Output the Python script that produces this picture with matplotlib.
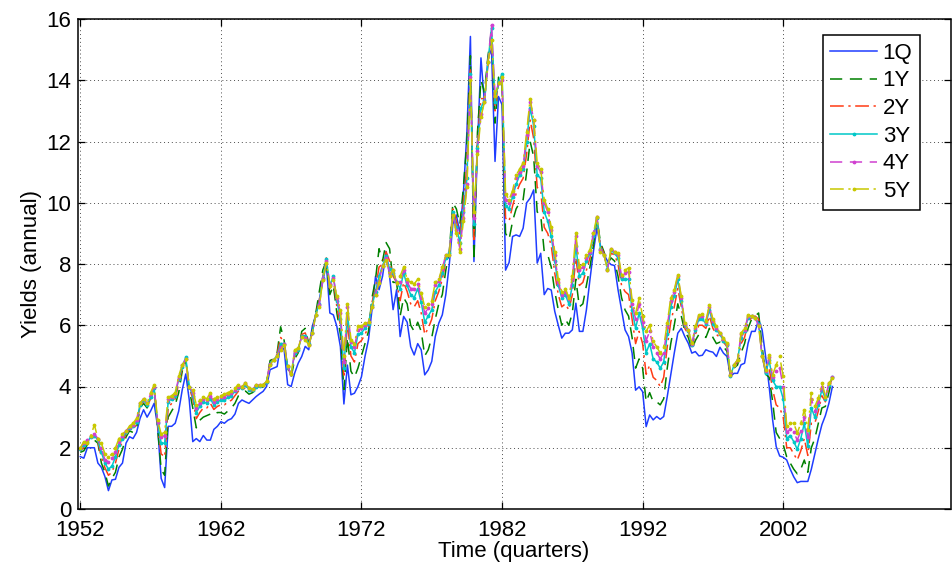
import numpy as np
import matplotlib
matplotlib.use("Agg")
import matplotlib.pyplot as plt

plt.rcParams['font.family'] = ['Liberation Sans', 'DejaVu Sans']

series_names = ['1Q', '1Y', '2Y', '3Y', '4Y', '5Y']
tick_labels = ['1952', '1962', '1972', '1982', '1992', '2002']
tick_quarters = [1, 41, 81, 121, 161, 201]

y_1q = [1.71,1.66,2.0,2.0,2.0,1.5,1.36,1.06,0.6,0.95,
0.97,1.36,1.5,2.15,2.36,2.3,2.5,2.96,3.24,3.0,
3.2,3.45,2.69,1.0,0.7,2.7,2.7,2.8,3.2,3.89,
4.41,3.56,2.2,2.3,2.2,2.4,2.25,2.25,2.6,2.7,
2.85,2.8,2.9,2.95,3.1,3.45,3.56,3.5,3.45,3.56,
3.67,3.76,3.84,4.0,4.55,4.6,4.65,5.36,5.2,4.06,
4.0,4.44,4.76,4.98,5.31,5.2,5.96,6.34,6.83,7.43,
8.0,6.4,6.34,5.96,5.3,3.43,4.7,3.73,3.78,4.0,
4.32,4.98,5.53,6.51,7.6,7.16,7.6,8.41,7.6,6.51,
7.16,5.63,6.29,6.1,5.3,5.03,5.4,5.2,4.38,4.54,
4.82,5.63,6.07,6.34,7.0,8.0,9.3,9.6,9.0,10.3,
12.3,15.43,8.08,11.84,14.73,13.25,14.73,15.0,11.35,13.47,
13.2,7.8,8.05,8.9,8.95,8.9,9.17,10.0,10.15,10.42,
8.03,8.35,7.0,7.2,7.15,6.45,6.0,5.58,5.74,5.74,
5.85,6.72,5.8,5.8,6.5,7.48,8.41,9.17,8.6,8.3,
8.1,7.98,7.95,7.16,6.5,5.85,5.63,5.09,3.88,3.99,
3.83,2.69,3.07,2.91,3.02,2.93,3.02,3.67,4.38,5.09,
5.74,5.9,5.63,5.41,5.09,5.14,5.0,5.02,5.2,5.15,
5.12,4.98,5.28,5.09,4.98,4.33,4.43,4.43,4.71,4.76,
5.41,5.8,5.8,6.18,5.85,4.98,4.0,2.9,2.04,1.73,
1.69,1.6,1.3,1.05,0.86,0.9,0.9,0.9,1.3,1.8,
2.3,2.75,3.05,3.45,4.0]

y_1y = [1.85,1.9,2.1,2.2,2.25,2.15,1.5,1.2,0.75,1.0,
1.2,1.7,1.95,2.35,2.55,2.5,2.65,3.3,3.45,3.3,
3.55,4.0,2.65,1.3,1.1,3.0,3.2,3.4,3.8,4.5,
4.85,3.9,3.3,2.65,2.9,3.0,3.05,3.1,3.05,3.15,
3.15,3.1,3.2,3.3,3.45,3.7,3.8,3.85,3.75,3.8,
3.9,3.95,3.98,4.15,4.85,4.9,5.1,5.95,5.5,4.6,
4.3,4.9,5.1,5.8,5.9,5.4,5.8,6.4,7.1,7.8,
8.1,7.0,7.3,6.4,5.7,3.9,5.6,4.5,4.3,4.6,
5.0,5.4,5.8,6.9,7.5,8.5,8.1,8.7,8.5,7.4,
7.4,6.3,6.9,6.7,6.0,5.8,6.1,5.8,5.0,5.2,
5.6,6.2,6.7,7.0,7.8,8.4,10.0,9.8,9.3,10.5,
12.0,14.8,8.1,12.3,14.0,13.6,14.8,15.6,12.6,14.1,
13.8,9.0,8.8,9.4,9.8,10.0,10.1,11.0,12.0,11.5,
9.7,9.6,8.4,8.3,7.9,7.1,6.5,6.0,6.2,6.0,
6.4,7.5,6.6,6.7,7.3,7.9,8.6,9.5,8.7,8.4,
8.0,8.2,8.1,7.6,6.9,6.5,6.3,5.6,4.6,4.9,
4.6,3.5,3.8,3.5,3.5,3.4,3.6,4.6,5.4,6.0,
6.7,6.3,5.8,5.6,5.2,5.5,5.7,5.7,5.6,5.9,
5.6,5.4,5.45,5.3,5.15,4.3,4.6,4.7,5.1,5.4,
5.9,6.2,6.3,6.4,5.3,4.4,4.3,3.5,2.5,2.3,
2.1,1.7,1.5,1.3,1.15,1.3,1.6,1.2,2.0,2.3,
2.8,3.3,3.35,3.8,4.3]

y_2y = [1.9,2.0,2.2,2.3,2.35,2.2,1.7,1.35,1.1,1.2,
1.5,1.95,2.2,2.45,2.6,2.6,2.75,3.35,3.5,3.35,
3.6,3.95,2.75,1.8,1.7,3.3,3.45,3.6,4.1,4.6,
4.9,3.95,3.6,2.95,3.15,3.3,3.3,3.45,3.25,3.35,
3.4,3.4,3.5,3.55,3.7,3.85,3.9,3.95,3.85,3.85,
3.95,4.0,4.02,4.15,4.8,4.9,5.05,5.6,5.45,4.65,
4.35,5.0,5.15,5.7,5.75,5.4,5.75,6.35,6.8,7.6,
8.2,7.2,7.5,6.6,6.0,4.3,6.1,5.0,4.8,5.4,
5.5,5.7,5.95,6.75,7.2,7.9,8.0,8.4,8.1,7.6,
7.4,6.8,7.4,7.1,6.7,6.6,6.8,6.4,5.7,5.9,
6.2,6.8,7.1,7.5,8.1,8.4,9.8,9.4,8.9,10.0,
11.2,14.4,8.8,12.0,13.4,13.4,14.5,15.5,13.0,14.0,
13.9,9.5,9.4,9.9,10.3,10.6,10.8,11.6,12.7,12.1,
10.5,10.4,9.2,9.0,8.6,7.7,7.0,6.6,6.7,6.5,
7.0,8.2,7.3,7.4,7.8,8.2,8.8,9.5,8.6,8.35,
7.9,8.35,8.3,8.0,7.3,7.1,7.0,6.2,5.4,5.8,
5.4,4.4,4.7,4.3,4.2,4.0,4.3,5.3,6.1,6.6,
7.2,6.6,5.9,5.7,5.3,5.7,6.0,6.0,5.9,6.3,
5.9,5.7,5.6,5.45,5.3,4.3,4.65,4.8,5.4,5.6,
6.1,6.25,6.3,6.2,5.1,4.4,4.6,3.9,3.4,3.3,
3.0,2.0,2.0,1.8,1.6,1.9,2.3,1.75,2.8,2.8,
3.2,3.7,3.5,3.95,4.3]

y_3y = [1.95,2.1,2.2,2.35,2.4,2.25,1.85,1.5,1.3,1.4,
1.7,2.1,2.3,2.5,2.65,2.7,2.85,3.4,3.55,3.4,
3.65,3.95,2.8,2.15,2.15,3.5,3.6,3.7,4.25,4.65,
4.95,4.0,3.7,3.15,3.35,3.5,3.45,3.6,3.4,3.5,
3.55,3.55,3.65,3.7,3.85,3.95,3.95,4.05,3.9,3.9,
4.0,4.02,4.05,4.15,4.75,4.88,5.0,5.4,5.4,4.65,
4.4,5.1,5.2,5.65,5.65,5.38,5.75,6.35,6.7,7.55,
8.15,7.3,7.6,6.8,6.2,4.6,6.4,5.3,5.1,5.7,
5.75,5.9,6.05,6.65,7.1,7.6,7.95,8.25,7.85,7.7,
7.4,7.2,7.7,7.3,7.0,6.9,7.2,6.75,6.1,6.3,
6.5,7.1,7.3,7.7,8.2,8.35,9.7,9.2,8.7,9.7,
10.8,14.2,9.3,11.8,13.1,13.35,14.6,15.7,13.3,13.95,
14.2,9.9,9.8,10.2,10.6,10.9,11.1,12.0,13.1,12.5,
10.9,10.8,9.7,9.4,8.9,8.1,7.3,6.9,7.0,6.7,
7.3,8.6,7.6,7.7,8.1,8.35,8.9,9.5,8.5,8.3,
7.85,8.45,8.35,8.2,7.5,7.5,7.5,6.5,5.9,6.4,
5.9,5.1,5.4,4.9,4.8,4.6,4.8,5.7,6.6,6.95,
7.5,6.8,6.0,5.8,5.35,5.85,6.2,6.2,6.05,6.5,
6.05,5.85,5.7,5.5,5.35,4.35,4.7,4.85,5.6,5.8,
6.25,6.3,6.25,6.05,5.0,4.45,4.85,4.2,4.0,4.0,
3.6,2.3,2.4,2.2,1.95,2.3,2.8,2.05,3.3,3.0,
3.4,3.9,3.6,4.05,4.3]

y_4y = [1.98,2.15,2.25,2.4,2.45,2.3,2.0,1.6,1.55,1.65,
1.85,2.2,2.4,2.55,2.68,2.75,2.9,3.45,3.6,3.45,
3.75,4.0,2.85,2.35,2.4,3.6,3.65,3.75,4.3,4.7,
4.9,4.0,3.8,3.3,3.45,3.6,3.55,3.7,3.5,3.6,
3.65,3.65,3.75,3.8,3.9,4.0,4.0,4.1,3.95,3.92,
4.05,4.05,4.06,4.17,4.72,4.87,4.98,5.3,5.38,4.66,
4.4,5.15,5.25,5.63,5.6,5.36,5.74,6.34,6.65,7.5,
8.1,7.35,7.55,6.9,6.4,4.8,6.6,5.45,5.3,5.85,
5.9,6.0,6.1,6.6,7.0,7.45,7.92,8.2,7.7,7.8,
7.38,7.4,7.8,7.4,7.2,7.2,7.35,6.9,6.4,6.55,
6.7,7.3,7.45,7.85,8.3,8.3,9.6,9.1,8.5,9.5,
10.6,14.1,9.5,11.7,12.9,13.3,14.6,15.8,13.5,13.9,
14.0,10.1,10.0,10.3,10.8,11.0,11.2,12.2,13.3,12.7,
11.2,11.0,10.0,9.7,9.1,8.3,7.4,7.0,7.1,6.85,
7.5,8.9,7.8,7.9,8.2,8.4,9.0,9.55,8.45,8.3,
7.8,8.5,8.4,8.3,7.6,7.7,7.75,6.7,6.2,6.7,
6.1,5.5,5.8,5.3,5.1,4.9,5.1,5.95,6.8,7.1,
7.6,6.9,6.05,5.85,5.4,5.9,6.3,6.3,6.1,6.6,
6.15,5.9,5.75,5.55,5.4,4.38,4.7,4.87,5.7,5.85,
6.3,6.3,6.23,6.0,4.98,4.5,4.95,4.3,4.5,4.6,
4.0,2.5,2.6,2.5,2.25,2.55,3.0,2.35,3.6,3.2,
3.5,4.0,3.65,4.1,4.3]

y_5y = [2.0,2.2,2.15,2.4,2.75,2.3,2.15,1.8,1.7,1.8,
2.0,2.3,2.45,2.55,2.7,2.8,2.96,3.45,3.6,3.45,
3.8,4.05,2.9,2.45,2.5,3.65,3.7,3.8,4.35,4.7,
4.9,4.0,3.9,3.4,3.55,3.65,3.6,3.8,3.6,3.65,
3.7,3.75,3.8,3.85,3.96,4.06,4.0,4.1,3.95,3.92,
4.06,4.06,4.06,4.17,4.71,4.87,4.98,5.2,5.36,4.66,
4.4,5.2,5.25,5.63,5.53,5.36,5.74,6.34,6.61,7.49,
8.03,7.27,7.49,6.94,6.51,5.0,6.7,5.53,5.4,5.96,
5.96,6.07,6.12,6.61,7.0,7.38,7.92,8.14,7.6,7.8,
7.38,7.6,7.9,7.5,7.4,7.35,7.5,7.05,6.6,6.7,
6.8,7.4,7.5,7.9,8.3,8.3,9.6,9.0,8.4,9.4,
10.5,14.0,9.7,11.6,12.8,13.3,14.6,15.3,13.5,13.9,
14.1,10.3,10.1,10.4,10.9,11.1,11.3,12.3,13.4,12.7,
11.3,11.1,10.1,9.8,9.2,8.4,7.5,7.1,7.2,6.9,
7.6,9.0,7.9,8.0,8.3,8.46,9.0,9.55,8.4,8.3,
7.8,8.5,8.4,8.36,7.65,7.8,7.87,6.82,6.39,6.88,
6.29,5.8,6.01,5.47,5.3,5.09,5.3,6.07,6.88,7.16,
7.65,6.94,6.07,5.85,5.41,5.96,6.34,6.36,6.15,6.66,
6.2,5.96,5.75,5.58,5.41,4.38,4.71,4.87,5.74,5.9,
6.34,6.29,6.23,5.96,4.98,4.54,5.03,4.38,4.71,4.98,
4.33,2.7,2.8,2.8,2.48,2.8,3.24,2.59,3.78,3.35,
3.62,4.11,3.67,4.11,4.27]

all_series = [y_1q, y_1y, y_2y, y_3y, y_4y, y_5y]
quarters = np.arange(1, len(y_1q) + 1)

styles = [
    dict(color='#1f3dff', linestyle='-', marker=None),
    dict(color='#008000', linestyle=(0, (8, 5)), marker=None),
    dict(color='#ff3a14', linestyle=(0, (9, 3, 1.5, 3)), marker=None),
    dict(color='#00c8c8', linestyle='-', marker='.'),
    dict(color='#d040d0', linestyle=(0, (8, 5)), marker='.'),
    dict(color='#c8c800', linestyle=(0, (9, 3, 1.5, 3)), marker='.'),
]

fig = plt.figure(figsize=(9.52, 5.72), dpi=100)
ax = fig.add_axes([77.5 / 952, 63 / 572, 873 / 952, 490 / 572])

for name, vals, st in zip(series_names, all_series, styles):
    ax.plot(quarters, vals, label=name, color=st['color'], linestyle=st['linestyle'],
            marker=st['marker'], markersize=3.5, linewidth=1.1)

ax.set_xlim(0.2, 248.6)
ax.set_ylim(0, 16)
ax.set_xticks(tick_quarters)
ax.set_xticklabels(tick_labels)
ax.set_yticks(np.arange(0, 17, 2))

ax.grid(True, linestyle=(0, (1, 3)), color='0.3', linewidth=0.7)
ax.tick_params(direction='in', length=5, width=0.9, top=True, right=True, labelsize=16)
ax.tick_params(axis='x', pad=8)
ax.tick_params(axis='y', pad=4.5)
for sp in ax.spines.values():
    sp.set_linewidth(1.1)
    sp.set_color('black')

ax.set_xlabel('Time (quarters)', fontsize=16, labelpad=0)
ax.set_ylabel('Yields (annual)', fontsize=16, labelpad=3)

leg = ax.legend(loc='upper right', bbox_to_anchor=(0.9653, 0.9673), borderaxespad=0,
                fontsize=16, fancybox=False, framealpha=1, edgecolor='black',
                handlelength=2.1, handletextpad=0.25, labelspacing=0.3, borderpad=0.35)
leg.get_frame().set_linewidth(1.1)

fig.savefig('out.png', dpi=100)
